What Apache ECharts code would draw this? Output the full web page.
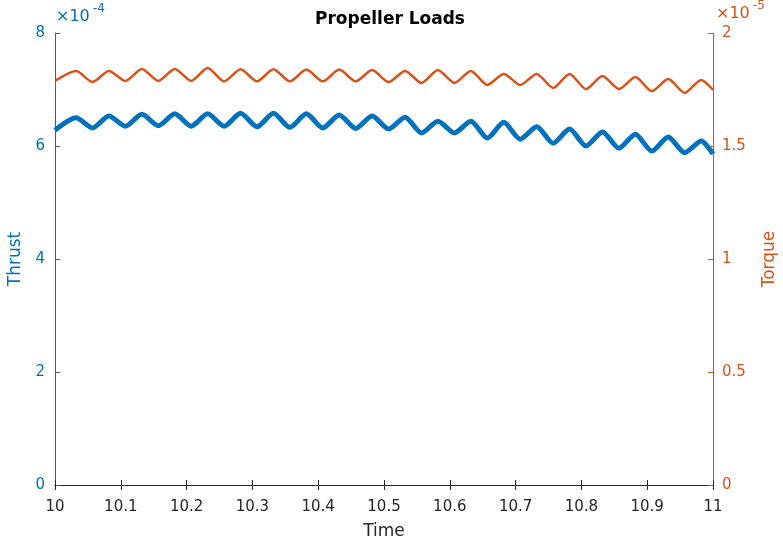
<!DOCTYPE html>
<html>
<head>
<meta charset="utf-8">
<title>Propeller Loads</title>
<script src="https://cdn.jsdelivr.net/npm/echarts@6/dist/echarts.min.js"></script>
<style>
  html, body { margin: 0; padding: 0; background: #fff; }
  #chart { width: 783px; height: 542px; }
</style>
</head>
<body>
<div id="chart"></div>
<script>
// time of start, then peak / trough alternating, then end
const timeKeys = [
  10.000, 10.032, 10.057, 10.082, 10.107, 10.132, 10.157, 10.182, 10.207, 10.232,
  10.257, 10.282, 10.307, 10.332, 10.357, 10.382, 10.407, 10.432, 10.457, 10.482,
  10.507, 10.532, 10.557, 10.582, 10.607, 10.632, 10.657, 10.682, 10.707, 10.732,
  10.757, 10.782, 10.807, 10.832, 10.857, 10.882, 10.907, 10.932, 10.957, 10.982,
  11.000
]
// thrust, units of 1e-4
const thrustVals = [
  6.28, 6.50, 6.32, 6.53, 6.35, 6.56, 6.36, 6.57, 6.35, 6.57,
  6.35, 6.58, 6.34, 6.58, 6.33, 6.57, 6.32, 6.55, 6.31, 6.53,
  6.30, 6.51, 6.23, 6.44, 6.23, 6.44, 6.14, 6.42, 6.12, 6.34,
  6.05, 6.30, 6.00, 6.25, 5.96, 6.21, 5.91, 6.16, 5.88, 6.09,
  5.86
]
// torque, units of 1e-5
const torqueVals = [
  1.788, 1.832, 1.783, 1.832, 1.788, 1.841, 1.788, 1.841, 1.788, 1.845,
  1.786, 1.840, 1.786, 1.840, 1.786, 1.838, 1.786, 1.838, 1.786, 1.836,
  1.783, 1.832, 1.779, 1.836, 1.779, 1.832, 1.770, 1.819, 1.770, 1.819,
  1.757, 1.819, 1.752, 1.810, 1.752, 1.805, 1.743, 1.796, 1.735, 1.792,
  1.748
]
const leftTicks = [0, 2, 4, 6, 8]
const rightTicks = [0, 0.5, 1, 1.5, 2]

const blue = '#0072BD'
const orange = '#D95319'
const font = 'DejaVu Sans'

const myEcharts = echarts.init(document.getElementById('chart'))

const thrustData = timeKeys.map((t, i) => [t, thrustVals[i]])
const torqueData = timeKeys.map((t, i) => [t, torqueVals[i]])

const option = {
  animation: false,
  title: {
    text: 'Propeller Loads',
    left: 385,
    top: 6,
    textAlign: 'center',
    textStyle: { fontFamily: font, fontSize: 17, fontWeight: 'bold', color: '#000' }
  },
  grid: { left: 55, right: 70, top: 33, bottom: 57, outerBoundsMode: 'none', containLabel: false },
  xAxis: [
    {
      type: 'value',
      min: 10,
      max: 11,
      interval: 0.1,
      name: 'Time',
      nameLocation: 'middle',
      nameGap: 38,
      nameTextStyle: { fontFamily: font, fontSize: 17, color: '#262626' },
      axisLine: { lineStyle: { color: '#262626', width: 1 } },
      axisTick: { inside: true, length: 5, lineStyle: { color: '#262626' } },
      axisLabel: {
        margin: 15,
        fontFamily: font,
        fontSize: 15,
        color: '#262626',
        formatter: (v) => (Math.abs(v - Math.round(v)) < 1e-9 ? String(Math.round(v)) : v.toFixed(1))
      },
      splitLine: { show: false }
    },
    {
      type: 'value',
      position: 'top',
      min: 10,
      max: 11,
      interval: 0.1,
      axisLine: { show: true, lineStyle: { color: '#262626', width: 1 } },
      axisTick: { show: true, inside: true, length: 5, lineStyle: { color: '#262626' } },
      axisLabel: { show: false },
      splitLine: { show: false }
    }
  ],
  yAxis: [
    {
      type: 'value',
      min: leftTicks[0],
      max: leftTicks[leftTicks.length - 1],
      interval: 2,
      name: 'Thrust',
      nameLocation: 'middle',
      nameRotate: 90,
      nameGap: 30,
      nameTextStyle: { fontFamily: font, fontSize: 17, color: blue },
      axisLine: { show: true, lineStyle: { color: '#5a5a5a', width: 1 } },
      axisTick: { show: true, inside: true, length: 5, lineStyle: { color: '#5a5a5a' } },
      axisLabel: { margin: 10, fontFamily: font, fontSize: 15, color: blue },
      splitLine: { show: false }
    },
    {
      type: 'value',
      position: 'right',
      min: rightTicks[0],
      max: rightTicks[rightTicks.length - 1],
      interval: 0.5,
      name: 'Torque',
      nameLocation: 'middle',
      nameRotate: 90,
      nameGap: 48,
      nameTextStyle: { fontFamily: font, fontSize: 17, color: orange },
      axisLine: { show: true, lineStyle: { color: orange, width: 1 } },
      axisTick: { show: true, inside: true, length: 5, lineStyle: { color: orange } },
      axisLabel: { margin: 9, fontFamily: font, fontSize: 15, color: orange },
      splitLine: { show: false }
    }
  ],
  graphic: [
    { type: 'text', left: 56, top: 9, style: { text: '×10', font: '16px "DejaVu Sans"', fill: blue } },
    { type: 'text', left: 93, top: 3, style: { text: '-4', font: '12px "DejaVu Sans"', fill: blue } },
    { type: 'text', left: 716, top: 6, style: { text: '×10', font: '16px "DejaVu Sans"', fill: orange } },
    { type: 'text', left: 753, top: 0, style: { text: '-5', font: '12px "DejaVu Sans"', fill: orange } }
  ],
  series: [
    {
      name: 'Thrust',
      type: 'line',
      xAxisIndex: 0,
      yAxisIndex: 0,
      showSymbol: false,
      smooth: 0.25,
      lineStyle: { color: blue, width: 5 },
      data: thrustData
    },
    {
      name: 'Torque',
      type: 'line',
      xAxisIndex: 0,
      yAxisIndex: 1,
      showSymbol: false,
      smooth: 0.25,
      lineStyle: { color: orange, width: 2.5 },
      data: torqueData
    }
  ]
}

myEcharts.setOption(option)
</script>
</body>
</html>
